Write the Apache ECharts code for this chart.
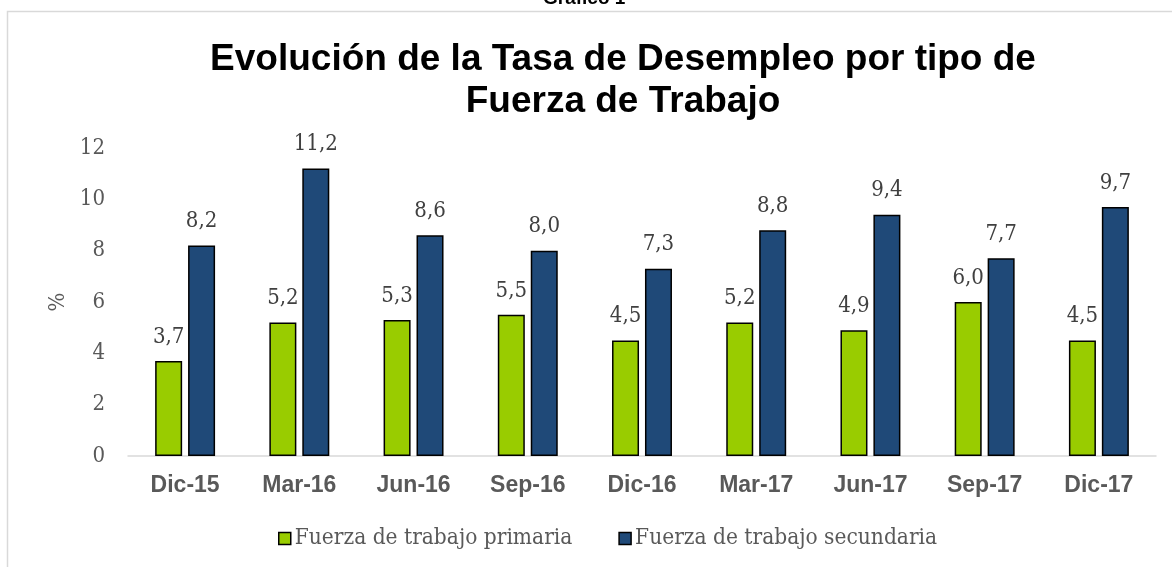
<!DOCTYPE html>
<html>
<head>
<meta charset="utf-8">
<script src="https://cdn.jsdelivr.net/npm/echarts@6/dist/echarts.min.js"></script>
<style>
  html, body { margin: 0; padding: 0; background: #fff; }
  #chart { width: 1172px; height: 567px; }
</style>
</head>
<body>
<div id="chart"></div>
<script>
const categories = ['Dic-15', 'Mar-16', 'Jun-16', 'Sep-16', 'Dic-16', 'Mar-17', 'Jun-17', 'Sep-17', 'Dic-17'];
const primaria = [3.7, 5.2, 5.3, 5.5, 4.5, 5.2, 4.9, 6.0, 4.5];
const secundaria = [8.2, 11.2, 8.6, 8.0, 7.3, 8.8, 9.4, 7.7, 9.7];
const yTicks = [0, 2, 4, 6, 8, 10, 12];

const serif = "'DejaVu Serif Condensed', 'DejaVu Serif', 'Liberation Serif', serif";
const sans = "'Liberation Sans', Arial, sans-serif";

const chart = echarts.init(document.getElementById('chart'));

// etiqueta con coma decimal
const fmt = p => p.value.toFixed(1).replace('.', ',');

chart.setOption({
  animation: false,
  graphic: [
    {
      type: 'rect',
      shape: { x: 7.5, y: 11.5, width: 1200, height: 600 },
      style: { fill: 'none', stroke: '#d9d9d9', lineWidth: 1.5 }
    },
    {
      type: 'text',
      left: 543, top: -11,
      style: { text: 'Gráfico 1', font: 'bold 19px ' + sans, fill: '#000' }
    }
  ],
  title: {
    text: 'Evolución de la Tasa de Desempleo por tipo de\nFuerza de Trabajo',
    left: 618,
    top: 34,
    textAlign: 'center',
    textStyle: { fontFamily: sans, fontWeight: 'bold', fontSize: 37, lineHeight: 42, color: '#000' }
  },
  legend: {
    bottom: 12,
    left: 273,
    itemWidth: 12,
    itemHeight: 12,
    itemGap: 46,
    icon: 'rect',
    textStyle: { fontFamily: serif, fontSize: 22.5, color: '#595959', padding: [0, 0, 0, -1] },
    itemStyle: { borderColor: '#000', borderWidth: 1.5 }
  },
  grid: { left: 128, right: 16, top: 148, bottom: 111, containLabel: false },
  xAxis: {
    type: 'category',
    data: categories,
    axisLine: { lineStyle: { color: '#d9d9d9', width: 1.5 } },
    axisTick: { show: false },
    axisLabel: { fontFamily: sans, fontWeight: 'bold', fontSize: 23, color: '#595959', margin: 18 }
  },
  yAxis: {
    type: 'value',
    min: yTicks[0],
    max: yTicks[yTicks.length - 1],
    interval: 2,
    name: '%',
    nameLocation: 'middle',
    nameGap: 56,
    nameTextStyle: { fontFamily: serif, fontSize: 22, color: '#595959' },
    splitLine: { show: false },
    axisLine: { show: false },
    axisTick: { show: false },
    axisLabel: { fontFamily: serif, fontSize: 22, color: '#595959', margin: 23 }
  },
  series: [
    {
      name: 'Fuerza de trabajo primaria',
      type: 'bar',
      data: primaria,
      barWidth: 27,
      barGap: '22%',
      itemStyle: { color: '#99cc00', borderColor: '#000', borderWidth: 1.5 },
      label: { show: true, position: 'top', distance: 13, formatter: fmt, fontFamily: serif, fontSize: 22, color: '#404040' }
    },
    {
      name: 'Fuerza de trabajo secundaria',
      type: 'bar',
      data: secundaria,
      barWidth: 27,
      barGap: '22%',
      itemStyle: { color: '#1f4978', borderColor: '#000', borderWidth: 1.5 },
      label: { show: true, position: 'top', distance: 13, formatter: fmt, fontFamily: serif, fontSize: 22, color: '#404040' }
    }
  ]
});
window.addEventListener('resize', () => chart.resize());
</script>
</body>
</html>
